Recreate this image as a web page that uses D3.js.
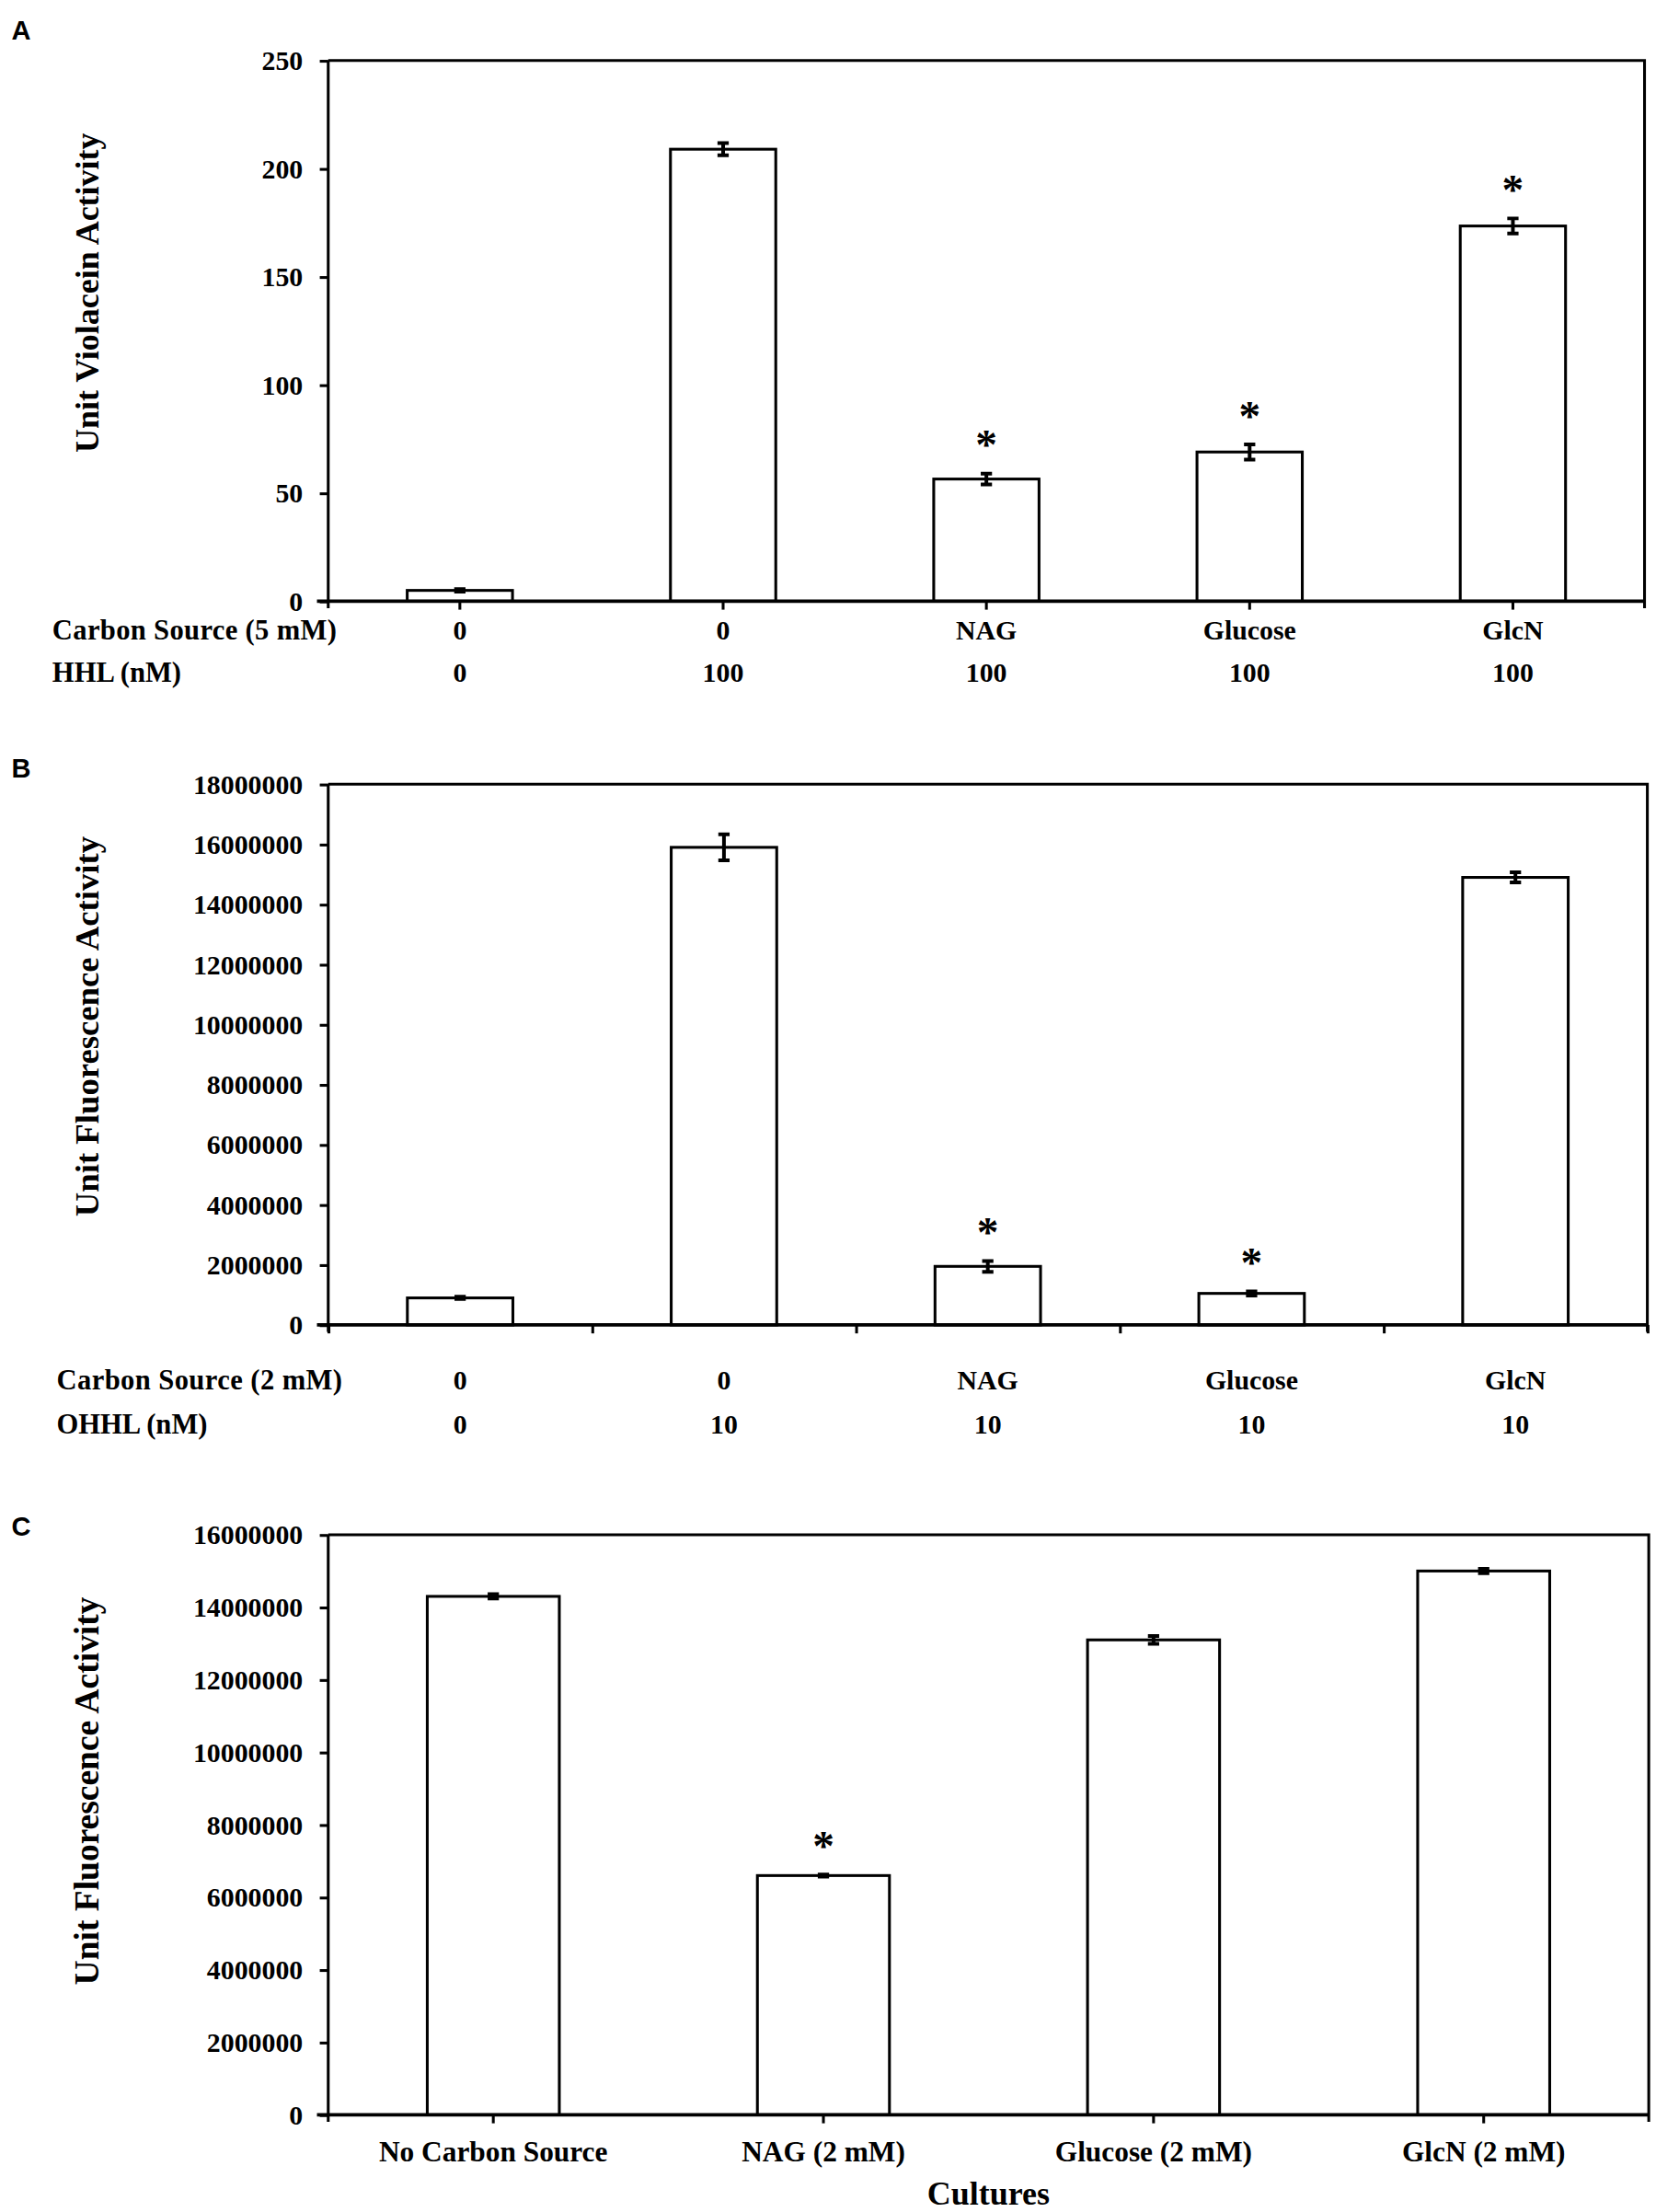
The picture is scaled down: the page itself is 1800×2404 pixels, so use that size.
<!DOCTYPE html>
<html>
<head>
<meta charset="utf-8">
<script src="https://cdn.jsdelivr.net/npm/d3@7"></script>
<style>
  html, body { margin: 0; padding: 0; background: #fff; }
  svg { display: block; }
  text { font-family: "Liberation Serif", "Times New Roman", serif; font-weight: bold; fill: #000; }
  .plabel { font-family: "Liberation Sans", Arial, sans-serif; font-weight: bold; }
</style>
</head>
<body>
<svg id="chart" width="1800" height="2404" viewBox="0 0 1176 1571"></svg>
<script>
// ---------- DATA ----------
// Panel A
const catA_carbon = ["0", "0", "NAG", "Glucose", "GlcN"];
const catA_hhl = ["0", "100", "100", "100", "100"];
const valA = [5, 209, 56.5, 69, 173.5];
const errA = [0.6, 2.8, 2.5, 3.5, 3.5];
const sigA = [false, false, true, true, true];
const ticksA = [0, 50, 100, 150, 200, 250];

// Panel B
const catB_carbon = ["0", "0", "NAG", "Glucose", "GlcN"];
const catB_ohhl = ["0", "10", "10", "10", "10"];
const valB = [900000, 15900000, 1950000, 1050000, 14900000];
const errB = [40000, 430000, 180000, 70000, 170000];
const sigB = [false, false, true, true, false];
const ticksB = [0, 2000000, 4000000, 6000000, 8000000, 10000000, 12000000, 14000000, 16000000, 18000000];

// Panel C
const catC = ["No Carbon Source", "NAG (2 mM)", "Glucose (2 mM)", "GlcN (2 mM)"];
const valC = [14300000, 6600000, 13100000, 15000000];
const errC = [60000, 30000, 110000, 60000];
const sigC = [false, true, false, false];
const ticksC = [0, 2000000, 4000000, 6000000, 8000000, 10000000, 12000000, 14000000, 16000000];

// ---------- DRAW ----------
const svg = d3.select("#chart");
svg.append("rect").attr("width", 1176).attr("height", 1571).attr("fill", "#fff");

function drawPanel(o) {
  const g = svg.append("g");
  const y = d3.scaleLinear().domain([0, o.ticks[o.ticks.length - 1]]).range([o.bottom, o.top]);
  const x = d3.scaleBand().domain(o.values.map((d, i) => i)).range([o.left, o.right])
    .paddingInner(o.padInner).paddingOuter(o.padOuter);

  // frame (top and right)
  g.append("path")
    .attr("d", `M${o.left},${o.top}H${o.right}V${o.bottom + 5}`)
    .attr("fill", "none").attr("stroke", "#000").attr("stroke-width", 2);

  // bars
  g.selectAll("rect.bar").data(o.values).join("rect")
    .attr("class", "bar")
    .attr("x", (d, i) => x(i)).attr("width", x.bandwidth())
    .attr("y", d => y(d)).attr("height", d => o.bottom - y(d))
    .attr("fill", "#fff").attr("stroke", "#000").attr("stroke-width", 2);

  // error bars
  const cap = 4;
  o.values.forEach((v, i) => {
    const cx = x(i) + x.bandwidth() / 2;
    const y1 = y(v + o.errs[i]), y2 = y(v - o.errs[i]);
    g.append("path")
      .attr("d", `M${cx},${y1}V${y2}M${cx - cap},${y1}H${cx + cap}M${cx - cap},${y2}H${cx + cap}`)
      .attr("stroke", "#000").attr("stroke-width", 2.6).attr("fill", "none");
    if (o.sig[i]) {
      g.append("text").attr("x", cx).attr("y", y1 - 10)
        .attr("text-anchor", "middle").attr("font-size", 31).text("*");
    }
  });

  // y axis
  const ya = g.append("g").attr("transform", `translate(${o.left},0)`)
    .call(d3.axisLeft(y).tickValues(o.ticks).tickFormat(d3.format("d")).tickSize(6).tickPadding(12));
  ya.select(".domain").attr("stroke-width", 2).attr("d", `M0,${o.top}V${o.bottom + 5}`);
  ya.selectAll(".tick line").attr("stroke-width", 2);
  ya.selectAll(".tick text").attr("font-size", 19.5).attr("font-family", null);

  // x axis
  let xa;
  if (o.boundaryTicks) {
    const xl = d3.scaleLinear().domain([0, o.values.length]).range([o.left, o.right]);
    xa = g.append("g").attr("transform", `translate(0,${o.bottom})`)
      .call(d3.axisBottom(xl).tickValues(d3.range(o.values.length + 1)).tickFormat("").tickSize(6));
  } else {
    xa = g.append("g").attr("transform", `translate(0,${o.bottom})`)
      .call(d3.axisBottom(x).tickFormat("").tickSize(6));
  }
  xa.select(".domain").attr("stroke-width", 2.4).attr("d", `M${o.left - 8},0H${o.right}`);
  xa.selectAll(".tick line").attr("stroke-width", 2);

  // y title
  g.append("text")
    .attr("transform", `translate(${o.titleX},${o.titleY}) rotate(-90)`)
    .attr("text-anchor", "middle").attr("font-size", o.titleSize)
    .text(o.title);

  // panel letter
  g.append("text").attr("class", "plabel").attr("x", 8).attr("y", o.letterY)
    .attr("font-size", 19).text(o.letter);

  return { x, y, g };
}

// Panel A
const pA = drawPanel({
  letter: "A", letterY: 28,
  top: 43, bottom: 427, left: 233, right: 1168,
  ticks: ticksA, values: valA, errs: errA, sig: sigA,
  padInner: 0.6, padOuter: 0.3,
  title: "Unit Violacein Activity", titleX: 70, titleY: 208, titleSize: 23.5
});
pA.g.append("text").attr("x", 37).attr("y", 454).attr("font-size", 20)
  .attr("textLength", 202).attr("lengthAdjust", "spacing").text("Carbon  Source (5 mM)");
pA.g.append("text").attr("x", 37).attr("y", 484).attr("font-size", 20).text("HHL (nM)");
catA_carbon.forEach((c, i) => pA.g.append("text").attr("x", pA.x(i) + pA.x.bandwidth() / 2).attr("y", 454)
  .attr("text-anchor", "middle").attr("font-size", 19.5).text(c));
catA_hhl.forEach((c, i) => pA.g.append("text").attr("x", pA.x(i) + pA.x.bandwidth() / 2).attr("y", 484)
  .attr("text-anchor", "middle").attr("font-size", 19.5).text(c));

// Panel B
const pB = drawPanel({
  letter: "B", letterY: 552,
  top: 557, bottom: 941, left: 233, right: 1170,
  ticks: ticksB, values: valB, errs: errB, sig: sigB,
  padInner: 0.6, padOuter: 0.3, boundaryTicks: true,
  title: "Unit Fluorescence Activity", titleX: 70, titleY: 729, titleSize: 24
});
pB.g.append("text").attr("x", 40).attr("y", 987).attr("font-size", 20)
  .attr("textLength", 203).attr("lengthAdjust", "spacing").text("Carbon  Source (2 mM)");
pB.g.append("text").attr("x", 40).attr("y", 1018).attr("font-size", 20).text("OHHL (nM)");
catB_carbon.forEach((c, i) => pB.g.append("text").attr("x", pB.x(i) + pB.x.bandwidth() / 2).attr("y", 987)
  .attr("text-anchor", "middle").attr("font-size", 19.5).text(c));
catB_ohhl.forEach((c, i) => pB.g.append("text").attr("x", pB.x(i) + pB.x.bandwidth() / 2).attr("y", 1018)
  .attr("text-anchor", "middle").attr("font-size", 19.5).text(c));

// Panel C
const pC = drawPanel({
  letter: "C", letterY: 1091,
  top: 1090, bottom: 1502, left: 233, right: 1171,
  ticks: ticksC, values: valC, errs: errC, sig: sigC,
  padInner: 0.6, padOuter: 0.3,
  title: "Unit  Fluorescence Activity", titleX: 70, titleY: 1272, titleSize: 24.5
});
catC.forEach((c, i) => pC.g.append("text").attr("x", pC.x(i) + pC.x.bandwidth() / 2).attr("y", 1535)
  .attr("text-anchor", "middle").attr("font-size", 20.5).text(c));
pC.g.append("text").attr("x", 702).attr("y", 1566).attr("text-anchor", "middle")
  .attr("font-size", 23.5).text("Cultures");
</script>
</body>
</html>
